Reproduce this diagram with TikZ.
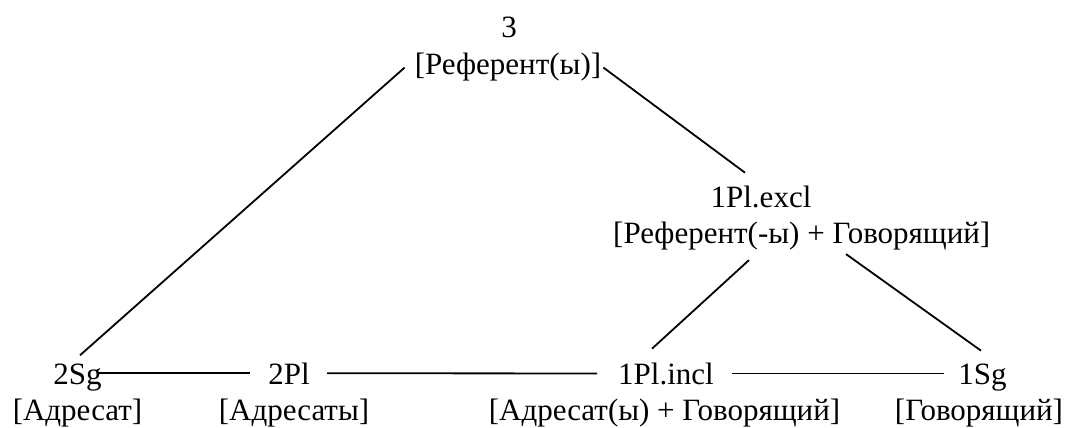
\documentclass[tikz,border=0pt]{standalone}
\usepackage{fontspec}
\setmainfont{Liberation Serif}
\begin{document}
\begin{tikzpicture}[x=1pt,y=1pt,
  lab/.style={inner sep=0pt,anchor=base,font=\fontsize{31}{36}\selectfont},
  link/.style={line width=1.8pt}]
\useasboundingbox (0,0) rectangle (1069,-428);

% third person
\node[lab] (t3)  at (509,-38) {3};
\node[lab] (r3)  at (508,-75) {[Референт(ы)]};

% first person plural exclusive
\node[lab] (p1e)  at (761,-207) {1Pl.excl};
\node[lab,anchor=base west] (p1ed) at (613,-243) {[Референт(-ы) + Говорящий]};

% bottom row
\node[lab] (sg2)  at (77.5,-384) {2Sg};
\node[lab] (sg2d) at (77.5,-420) {[Адресат]};
\node[lab] (pl2)  at (289,-384) {2Pl};
\node[lab] (pl2d) at (294,-420) {[Адресаты]};
\node[lab] (p1i)  at (666,-384) {1Pl.incl};
\node[lab] (p1id) at (664.5,-420) {[Адресат(ы) + Говорящий]};
\node[lab] (sg1)  at (982.5,-384) {1Sg};
\node[lab] (sg1d) at (979,-420) {[Говорящий]};

% connectors
\draw[link] ([xshift=-10pt]r3.west) -- ([shift={(2.5,8)}]sg2.north);
\draw[link] ([xshift=2pt]r3.east) -- ([shift={(-16,12.6)}]p1e.north);
\draw[link] ([shift={(136,-10.3)}]p1ed.south west) -- ([shift={(-14,13.6)}]p1i.north);
\draw[link] ([shift={(233,-4.3)}]p1ed.south west) -- ([shift={(-1.5,12.6)}]sg1.north);
\draw[link] ([xshift=-4.6pt]sg2.east |- pl2.west) -- ([xshift=-18pt]pl2.west);
\draw[link] ([xshift=17.3pt]pl2.east) -- ([xshift=-21pt]p1i.west);
\draw[link] ([xshift=18pt]p1i.east) -- ([xshift=-14.5pt]sg1.west |- p1i.east);
\end{tikzpicture}
\end{document}
